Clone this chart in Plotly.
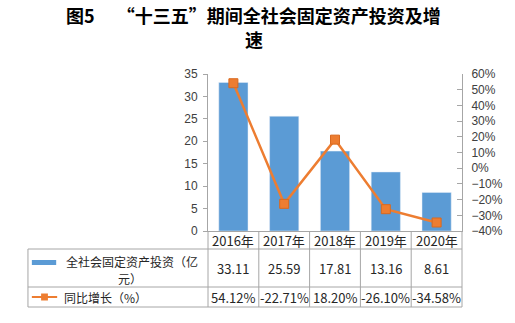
import plotly.graph_objects as go

# Data
years = ["2016年", "2017年", "2018年", "2019年", "2020年"]
investment = [33.11, 25.59, 17.81, 13.16, 8.61]      # 亿元
growth = [54.12, -22.71, 18.20, -26.10, -34.58]      # %
series_names = [["全社会固定资产投资（亿", "元）"], ["同比增长（%）"]]
title_lines = ["图5　&nbsp;“十三五”期间全社会固定资产投资及增", "速"]

BAR_COLOR = "#5B9BD5"
LINE_COLOR = "#ED7D31"
GRID_COLOR = "#A6A6A6"
TEXT_COLOR = "#262626"

W, H = 515, 323
L, R, T, B = 208, 469, 74, 231   # plot area in pixels


def px(x):
    return (x - L) / (R - L)


def py(y):
    return (B - y) / (B - T)


fig = go.Figure()
fig.add_trace(go.Bar(
    x=years, y=investment, marker_color=BAR_COLOR, width=0.575,
    name="".join(series_names[0]), hoverinfo="skip",
))
fig.add_trace(go.Scatter(
    x=years, y=growth, yaxis="y2", mode="lines+markers",
    line=dict(color=LINE_COLOR, width=2.5),
    marker=dict(symbol="square", size=9, color=LINE_COLOR,
                line=dict(color="#D9691F", width=1)),
    name=series_names[1][0], hoverinfo="skip",
))

shapes = []
annotations = []


def hline(y, x0, x1):
    shapes.append(dict(type="line", xref="paper", yref="paper",
                       x0=px(x0), x1=px(x1), y0=py(y), y1=py(y),
                       line=dict(color=GRID_COLOR, width=1)))


def vline(x, y0, y1):
    shapes.append(dict(type="line", xref="paper", yref="paper",
                       x0=px(x), x1=px(x), y0=py(y0), y1=py(y1),
                       line=dict(color=GRID_COLOR, width=1)))


# Data table under the plot
n = len(years)
col_w = (R - L) / n
row_year = (231, 249)
row_inv = (249, 287)
row_gr = (287, 307)
table_left = 23

for i in range(n + 1):
    vline(L + i * col_w, row_year[0], row_gr[1])
vline(table_left, row_inv[0], row_gr[1])
hline(row_year[1], table_left, R)
hline(row_inv[1], table_left, R)
hline(row_gr[1], table_left, R)

cell_font = dict(family="Noto Sans CJK SC", size=13, color=TEXT_COLOR)
key_font = dict(family="Noto Sans CJK SC", size=12, color=TEXT_COLOR)


def cell_text(x, y, text, xanchor="center", font=cell_font):
    annotations.append(dict(xref="paper", yref="paper", x=px(x), y=py(y),
                            text=text, showarrow=False, xanchor=xanchor,
                            yanchor="middle", font=font))


for i, yr in enumerate(years):
    cx = L + (i + 0.5) * col_w
    cell_text(cx, sum(row_year) / 2, yr)
    cell_text(cx, sum(row_inv) / 2, f"{investment[i]:.2f}")
    cell_text(cx, sum(row_gr) / 2, f"{growth[i]:.2f}%")

# Legend keys inside the table
shapes.append(dict(type="rect", xref="paper", yref="paper",
                   x0=px(27), x1=px(52), y0=py(260), y1=py(265),
                   fillcolor=BAR_COLOR, line=dict(width=0)))
shapes.append(dict(type="line", xref="paper", yref="paper",
                   x0=px(27), x1=px(53), y0=py(297), y1=py(297),
                   line=dict(color=LINE_COLOR, width=2)))
shapes.append(dict(type="rect", xref="paper", yref="paper",
                   x0=px(36.5), x1=px(43.5), y0=py(293.5), y1=py(300.5),
                   fillcolor=LINE_COLOR, line=dict(width=0)))
cell_text(130, 261, series_names[0][0], font=key_font)
cell_text(128, 278.5, series_names[0][1], font=key_font)
cell_text(58, sum(row_gr) / 2, series_names[1][0], xanchor="left",
          font=key_font)

# Title, two lines
title_font = dict(family="Noto Sans CJK SC", size=18, color="#000000")
for text, yc in zip(title_lines, (15, 39)):
    annotations.append(dict(xref="paper", yref="paper", x=px(255), y=py(yc),
                            text="<b>" + text + "</b>", showarrow=False,
                            xanchor="center", yanchor="middle",
                            font=title_font))

tick_font = dict(family="Liberation Sans", size=12, color="#404040")

fig.update_layout(
    width=W, height=H,
    margin=dict(l=L, r=W - R, t=T, b=H - B, pad=0),
    paper_bgcolor="white", plot_bgcolor="white",
    showlegend=False,
    bargap=0.425,
    xaxis=dict(showticklabels=False, ticks="", showgrid=False,
               showline=True, linecolor=GRID_COLOR, linewidth=1,
               zeroline=False),
    yaxis=dict(range=[0, 35], dtick=5, showgrid=False, zeroline=False,
               showline=True, linecolor=GRID_COLOR, linewidth=1,
               ticks="outside", ticklen=4, tickcolor=GRID_COLOR,
               tickfont=tick_font, ticklabelstandoff=3),
    yaxis2=dict(range=[-40, 60], dtick=10, overlaying="y", side="right",
                ticksuffix="%", showgrid=False, zeroline=False,
                showline=True, linecolor=GRID_COLOR, linewidth=1,
                ticks="inside", ticklen=5, tickcolor=GRID_COLOR,
                tickfont=tick_font, ticklabelstandoff=6),
    shapes=shapes,
    annotations=annotations,
)

fig.write_html("out.html")
